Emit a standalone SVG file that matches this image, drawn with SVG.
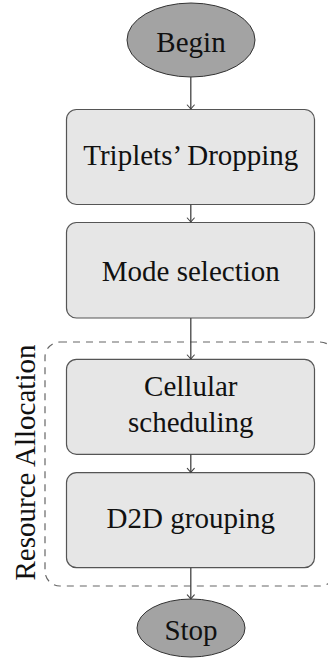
<svg xmlns="http://www.w3.org/2000/svg" width="328" height="661" viewBox="0 0 328 661" font-family="'Liberation Serif', 'Times New Roman', Times, serif">
  <defs>
    <marker id="to" viewBox="-5 -5 10 10" markerWidth="10" markerHeight="10" refX="0" refY="0" orient="auto" markerUnits="userSpaceOnUse">
      <path d="M -4 -3.5 Q -1 -0.8 0 0 Q -1 0.8 -4 3.5" fill="none" stroke="#444" stroke-width="1.1" stroke-linecap="round"/>
    </marker>
  </defs>
  <style>
    .box { fill: #e6e6e6; stroke: #555; stroke-width: 1.2; }
    .term { fill: #a3a3a3; stroke: #333; stroke-width: 1; }
    .group { fill: none; stroke: #666; stroke-width: 1.2; stroke-dasharray: 7 6; }
    .edge { fill: none; stroke: #444; stroke-width: 1.3; marker-end: url(#to); }
    .lbl { font-family: 'Liberation Serif', 'Times New Roman', Times, serif; font-size: 29px; fill: #111; text-anchor: middle; }
  </style>

  <rect width="328" height="661" fill="#ffffff"/>

  <!-- dashed frame around the resource allocation steps -->
  <g id="resource-allocation">
    <rect class="group" x="45" y="342" width="290" height="244" rx="15" ry="15"/>
    <text class="lbl" transform="translate(35,462.5) rotate(-90)">Resource Allocation</text>
  </g>

  <g id="begin">
    <ellipse class="term" cx="191" cy="40" rx="64" ry="37"/>
    <text class="lbl" x="191" y="52">Begin</text>
  </g>

  <g id="triplets-dropping">
    <rect class="box" x="66.5" y="109.5" width="248" height="95" rx="10" ry="10"/>
    <text class="lbl" x="190.8" y="165">Triplets’ Dropping</text>
  </g>

  <g id="mode-selection">
    <rect class="box" x="66.5" y="222.5" width="248" height="95.5" rx="10" ry="10"/>
    <text class="lbl" x="190.8" y="280.7">Mode selection</text>
  </g>

  <g id="cellular-scheduling">
    <rect class="box" x="66.5" y="359.3" width="248" height="95" rx="10" ry="10"/>
    <text class="lbl" x="190.8" y="396">Cellular</text>
    <text class="lbl" x="190.8" y="431.7">scheduling</text>
  </g>

  <g id="d2d-grouping">
    <rect class="box" x="66.5" y="472.7" width="248" height="95" rx="10" ry="10"/>
    <text class="lbl" x="190.8" y="527.7">D2D grouping</text>
  </g>

  <g id="stop">
    <ellipse class="term" cx="191" cy="628" rx="54" ry="29"/>
    <text class="lbl" x="191" y="640">Stop</text>
  </g>

  <g id="connectors">
    <line class="edge" x1="190.8" y1="77" x2="190.8" y2="109"/>
    <line class="edge" x1="190.8" y1="204.5" x2="190.8" y2="222"/>
    <line class="edge" x1="190.8" y1="318" x2="190.8" y2="359"/>
    <line class="edge" x1="190.8" y1="454.3" x2="190.8" y2="472.4"/>
    <line class="edge" x1="190.8" y1="567.7" x2="190.8" y2="598.8"/>
  </g>
</svg>
